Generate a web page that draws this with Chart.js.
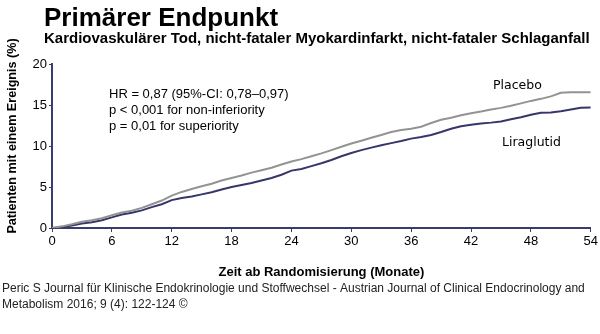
<!DOCTYPE html>
<html><head><meta charset="utf-8">
<script src="https://cdn.jsdelivr.net/npm/chart.js@4"></script>
<style>html,body{margin:0;padding:0;background:#fff;}#wrap{width:600px;height:334px;}</style>
</head><body><div id="wrap"><canvas id="c" width="600" height="334"></canvas></div>
<script>
const months = [0,1,2,3,4,5,6,7,8,9,10,11,12,13,14,15,16,17,18,19,20,21,22,23,24,25,26,27,28,29,30,31,32,33,34,35,36,37,38,39,40,41,42,43,44,45,46,47,48,49,50,51,52,53,54];
const placebo = [0,0.2,0.45,0.75,0.95,1.2,1.55,1.9,2.1,2.45,2.9,3.35,3.95,4.4,4.75,5.1,5.4,5.8,6.1,6.4,6.75,7.05,7.35,7.75,8.1,8.4,8.75,9.1,9.5,9.9,10.3,10.65,11.0,11.35,11.7,11.95,12.1,12.35,12.8,13.2,13.45,13.75,14.0,14.2,14.45,14.65,14.9,15.2,15.5,15.75,16.05,16.5,16.55,16.55,16.55];
const liraglutid = [0,0.1,0.3,0.55,0.7,0.95,1.3,1.65,1.85,2.15,2.55,2.9,3.4,3.65,3.85,4.1,4.35,4.7,5.0,5.25,5.5,5.8,6.1,6.5,7.0,7.2,7.55,7.9,8.3,8.75,9.15,9.5,9.8,10.1,10.35,10.6,10.9,11.1,11.35,11.7,12.1,12.4,12.6,12.75,12.85,13.0,13.25,13.5,13.8,14.05,14.1,14.25,14.45,14.65,14.7];
const xTicks = [0,6,12,18,24,30,36,42,48,54];
const yTicks = [0,5,10,15,20];
const seriesNames = ['Placebo','Liraglutid'];
const titleText = 'Primärer Endpunkt';
const subtitleText = 'Kardiovaskulärer Tod, nicht-fataler Myokardinfarkt, nicht-fataler Schlaganfall';
const yTitle = 'Patienten mit einem Ereignis (%)';
const xTitle = 'Zeit ab Randomisierung (Monate)';
const statLines = ['HR = 0,87 (95%-CI: 0,78–0,97)','p < 0,001 for non-inferiority','p = 0,01 for superiority'];
const footerLines = ['Peric S Journal für Klinische Endokrinologie und Stoffwechsel - Austrian Journal of Clinical Endocrinology and','Metabolism 2016; 9 (4): 122-124 ©'];

const AX = '#3c3c6c';
const GRAY = '#939393';
const NAVY = '#36366a';

const textPlugin = {
  id: 'texts',
  afterDraw(chart) {
    const ctx = chart.ctx;
    const a = chart.chartArea;
    ctx.save();
    ctx.fillStyle = '#000';
    ctx.textBaseline = 'alphabetic';
    ctx.textAlign = 'left';
    ctx.font = 'bold 26px "Liberation Sans", Arial, sans-serif';
    ctx.fillText(titleText, 44, 26);
    ctx.font = 'bold 15px "Liberation Sans", Arial, sans-serif';
    ctx.fillText(subtitleText, 44, 43);
    // y title
    ctx.save();
    ctx.translate(16, 136);
    ctx.rotate(-Math.PI/2);
    ctx.textAlign = 'center';
    ctx.font = 'bold 12.6px "Liberation Sans", Arial, sans-serif';
    ctx.fillText(yTitle, 0, 0);
    ctx.restore();
    // x title
    ctx.textAlign = 'center';
    ctx.font = 'bold 13px "Liberation Sans", Arial, sans-serif';
    ctx.fillText(xTitle, (a.left + a.right)/2, 276);
    // stats
    ctx.textAlign = 'left';
    ctx.font = '13px "Liberation Sans", Arial, sans-serif';
    statLines.forEach((s,i) => ctx.fillText(s, 109, 98 + i*16));
    // series labels
    ctx.font = '12.5px "DejaVu Sans", Verdana, sans-serif';
    ctx.fillText(seriesNames[0], 493, 89);
    ctx.fillText(seriesNames[1], 502, 146);
    // footer
    ctx.fillStyle = '#222';
    ctx.font = '12px "Liberation Sans", Arial, sans-serif';
    ctx.fillText(footerLines[0], 2, 292);
    ctx.fillText(footerLines[1], 2, 308);
    ctx.restore();
  }
};

new Chart(document.getElementById('c'), {
  type: 'line',
  data: {
    datasets: [
      { label: seriesNames[0], data: months.map((m,i)=>({x:m,y:placebo[i]})), borderColor: GRAY, borderWidth: 2, pointRadius: 0, tension: 0, fill: false },
      { label: seriesNames[1], data: months.map((m,i)=>({x:m,y:liraglutid[i]})), borderColor: NAVY, borderWidth: 2, pointRadius: 0, tension: 0, fill: false }
    ]
  },
  options: {
    responsive: false,
    animation: false,
    devicePixelRatio: 1,
    layout: { padding: { left: 0, top: 64, right: 8, bottom: 0 } },
    plugins: { legend: { display: false }, tooltip: { enabled: false }, title: { display: false } },
    scales: {
      x: {
        type: 'linear', min: 0, max: 54,
        afterBuildTicks: s => { s.ticks = xTicks.map(v => ({value: v})); },
        afterFit: s => { s.height = 106; },
        border: { color: AX, width: 2 },
        grid: { drawOnChartArea: false, tickLength: 4, color: AX, tickWidth: 1 },
        ticks: { color: '#000', font: { family: '"Liberation Sans", Arial, sans-serif', size: 13 }, padding: 2, maxRotation: 0 }
      },
      y: {
        min: 0, max: 20,
        afterBuildTicks: s => { s.ticks = yTicks.map(v => ({value: v})); },
        afterFit: s => { s.width = 52; },
        border: { color: AX, width: 2 },
        grid: { drawOnChartArea: false, tickLength: 3, color: AX, tickWidth: 1 },
        ticks: { color: '#000', font: { family: '"Liberation Sans", Arial, sans-serif', size: 13 }, padding: 2 }
      }
    }
  },
  plugins: [textPlugin]
});
</script></body></html>
